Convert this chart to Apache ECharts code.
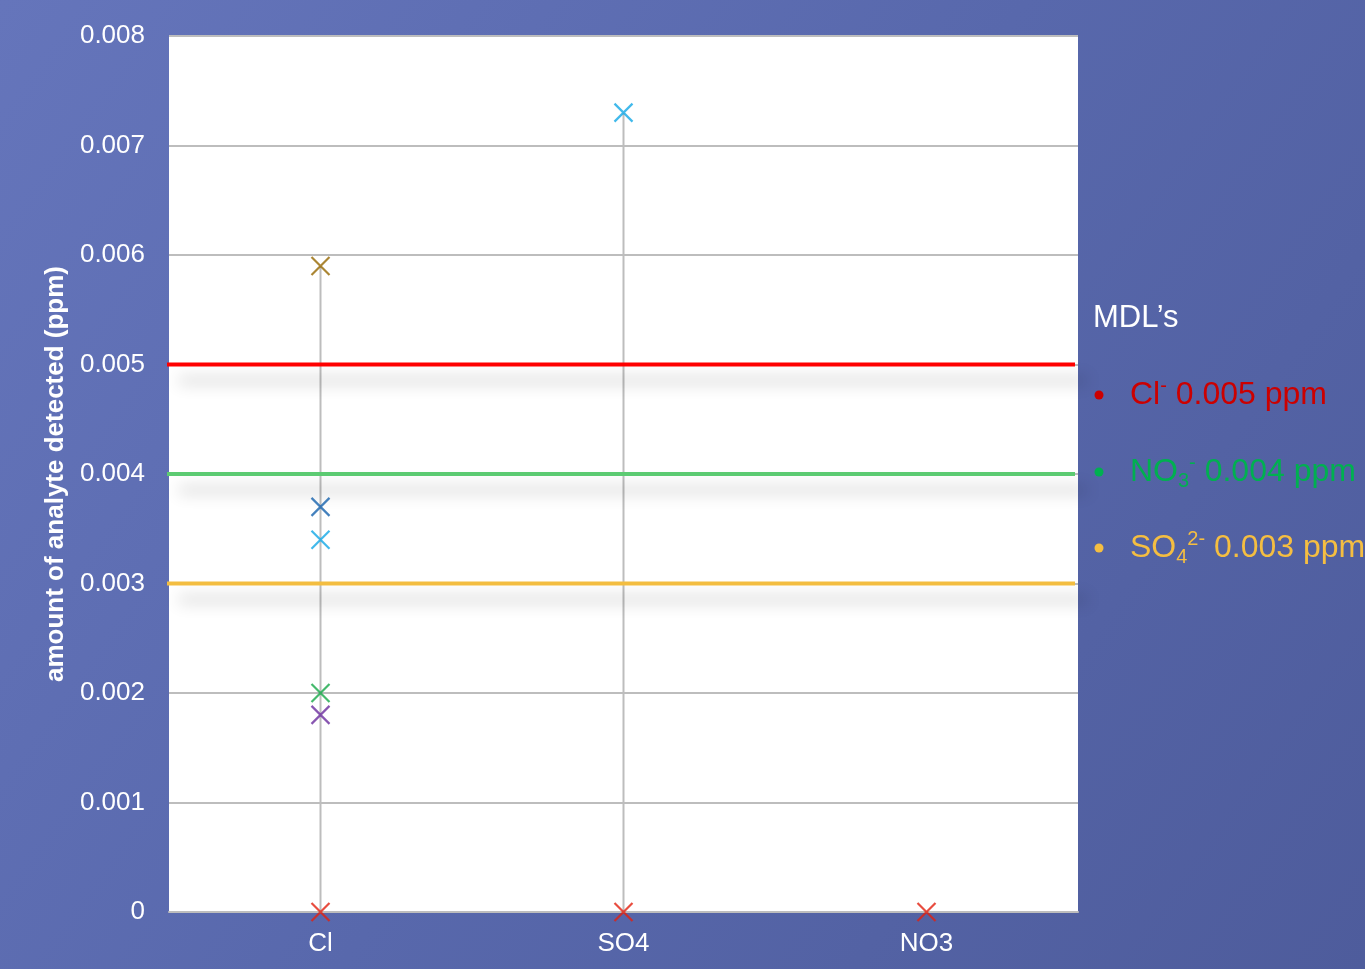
<!DOCTYPE html>
<html>
<head>
<meta charset="utf-8">
<title>MDL's</title>
<script src="https://cdn.jsdelivr.net/npm/echarts@6/dist/echarts.min.js"></script>
<style>
  html, body { margin: 0; padding: 0; width: 1365px; height: 969px; overflow: hidden; }
  #chart { width: 1365px; height: 969px; }
</style>
</head>
<body>
<div id="chart"></div>
<script>
// Analytes on the category axis
const categories = ['Cl', 'SO4', 'NO3'];

// Measured amounts (ppm) per sample, one value per analyte (null = no point)
const sampleBrown = [0.0059, null, null];
const sampleNavy = [0.0037, null, null];
const sampleSky = [0.0034, 0.0073, null];
const sampleGreen = [0.0020, null, null];
const samplePurple = [0.0018, null, null];
const blanks = [0, 0, 0];

// Method detection limits (ppm)
const mdlValues = [0.005, 0.004, 0.003];
const mdlColors = ['#FF0000', '#5CCB72', '#F3BD40'];

// Y axis range
const yMin = 0;
const yMax = 0.008;
const yStep = 0.001;

const FONT = '"Liberation Sans", Arial, sans-serif';

const samples = [
  { name: 'brown', data: sampleBrown, color: '#966800' },
  { name: 'navy', data: sampleNavy, color: '#1562AC' },
  { name: 'sky', data: sampleSky, color: '#12A8E6' },
  { name: 'green', data: sampleGreen, color: '#16A848' },
  { name: 'purple', data: samplePurple, color: '#6A2C9E' },
  { name: 'blank', data: blanks, color: '#E2200F' }
];

// Highest value per analyte, used for the high-low drop lines
const highs = categories.map((c, i) => {
  let m = null;
  samples.forEach(s => {
    const v = s.data[i];
    if (v != null && (m == null || v > m)) m = v;
  });
  return m;
});

const crossPath = 'path://M0,0L10,10M10,0L0,10';

const chart = echarts.init(document.getElementById('chart'), null, { renderer: 'canvas' });

const series = [];

// Drop lines from the highest reading down to zero
series.push({
  type: 'custom',
  name: 'highlow',
  silent: true,
  z: 1,
  data: highs.map((h, i) => [i, h]),
  renderItem: function (params, api) {
    const h = api.value(1);
    if (h == null || isNaN(h) || h <= 0) return null;
    const top = api.coord([api.value(0), h]);
    const bottom = api.coord([api.value(0), 0]);
    return {
      type: 'line',
      shape: { x1: top[0], y1: top[1], x2: bottom[0], y2: bottom[1] },
      style: { stroke: '#BDBDBD', lineWidth: 2 }
    };
  }
});

// MDL reference lines across the plot, with a soft drop shadow
series.push({
  type: 'custom',
  name: 'mdl',
  silent: true,
  z: 3,
  data: mdlValues.map((v, i) => [0, v, i]),
  renderItem: function (params, api) {
    const cs = params.coordSys;
    const y = api.coord([0, api.value(1)])[1];
    const color = mdlColors[api.value(2)];
    return {
      type: 'line',
      shape: { x1: cs.x - 2, y1: y, x2: cs.x + cs.width - 3, y2: y },
      style: {
        stroke: color,
        lineWidth: 4,
        shadowColor: 'rgba(0,0,0,0.3)',
        shadowBlur: 16,
        shadowOffsetX: 12,
        shadowOffsetY: 16
      }
    };
  }
});

samples.forEach(s => {
  series.push({
    type: 'scatter',
    name: s.name,
    data: s.data,
    symbol: crossPath,
    symbolSize: 18,
    z: 5,
    itemStyle: { color: 'rgba(0,0,0,0)', borderColor: s.color, borderWidth: 2.2 }
  });
});

const legendRow = (top, color, text) => {
  const rich = {
    m: { fontFamily: FONT, fontSize: 32, lineHeight: 38, fill: color },
    sup: { fontFamily: FONT, fontSize: 20, verticalAlign: 'top', lineHeight: 18, fill: color },
    sub: { fontFamily: FONT, fontSize: 20, verticalAlign: 'bottom', lineHeight: 14, fill: color }
  };
  return [
    { type: 'circle', shape: { cx: 1099, cy: top + 19, r: 4.5 }, style: { fill: color } },
    { type: 'text', left: 1130, top: top, style: { text: text, fill: color, rich: rich } }
  ];
};

const option = {
  animation: false,
  backgroundColor: new echarts.graphic.LinearGradient(0, 0, 1, 1, [
    { offset: 0, color: '#6575BB' },
    { offset: 0.5, color: '#5868AC' },
    { offset: 1, color: '#4E5C9C' }
  ]),
  grid: {
    left: 169,
    right: 287,
    top: 36,
    bottom: 57,
    show: true,
    backgroundColor: '#FFFFFF',
    borderWidth: 0,
    containLabel: false
  },
  xAxis: {
    type: 'category',
    data: categories,
    boundaryGap: true,
    axisLine: { show: true, lineStyle: { color: '#BDBDBD', width: 2 } },
    axisTick: { show: false },
    splitLine: { show: false },
    axisLabel: { color: '#FFFFFF', fontSize: 26, fontFamily: FONT, margin: 19 }
  },
  yAxis: {
    type: 'value',
    min: yMin,
    max: yMax,
    interval: yStep,
    name: 'amount of analyte detected (ppm)',
    nameLocation: 'middle',
    nameGap: 98,
    nameTextStyle: { color: '#FFFFFF', fontSize: 26, fontWeight: 'bold', fontFamily: FONT },
    axisLine: { show: false },
    axisTick: { show: false },
    splitLine: { show: true, lineStyle: { color: '#BDBDBD', width: 2 } },
    axisLabel: {
      color: '#FFFFFF',
      fontSize: 26,
      fontFamily: FONT,
      margin: 24,
      formatter: v => (v === 0 ? '0' : v.toFixed(3))
    }
  },
  series: series,
  graphic: [
    {
      type: 'text', left: 1093, top: 303,
      style: { text: 'MDL’s', fill: '#FFFFFF', font: '31px ' + FONT }
    }
  ]
    .concat(legendRow(376, '#CC0000', '{m|Cl}{sup|-}{m| 0.005 ppm}'))
    .concat(legendRow(453, '#00B050', '{m|NO}{sub|3}{sup|-}{m| 0.004 ppm}'))
    .concat(legendRow(529, '#F5BE41', '{m|SO}{sub|4}{sup|2-}{m| 0.003 ppm}'))
};

chart.setOption(option);
</script>
</body>
</html>
